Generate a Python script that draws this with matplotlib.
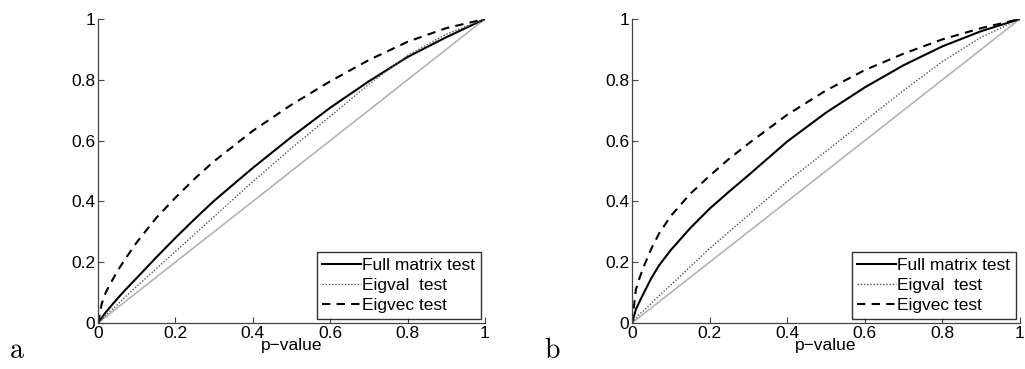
import numpy as np
import matplotlib
matplotlib.use("Agg")
from matplotlib import pyplot as plt

plt.rcParams['font.family'] = ['Liberation Sans', 'DejaVu Sans']
plt.rcParams['mathtext.fontset'] = 'cm'

p = [0, 0.01, 0.02, 0.03, 0.05, 0.07, 0.1, 0.15, 0.2, 0.25, 0.3, 0.4, 0.5, 0.6, 0.7, 0.8, 0.9, 1.0]

# panel a
full_a   = [0, 0.018, 0.035, 0.05, 0.08, 0.108, 0.148, 0.215, 0.28, 0.342, 0.402, 0.51, 0.612, 0.708, 0.795, 0.875, 0.94, 1.0]
eigval_a = [0, 0.012, 0.025, 0.037, 0.06, 0.085, 0.12, 0.178, 0.235, 0.292, 0.35, 0.465, 0.575, 0.68, 0.785, 0.88, 0.95, 1.0]
eigvec_a = [0, 0.065, 0.1, 0.125, 0.17, 0.21, 0.265, 0.345, 0.412, 0.475, 0.532, 0.632, 0.718, 0.795, 0.865, 0.925, 0.97, 1.0]

# panel b
full_b   = [0, 0.045, 0.072, 0.098, 0.148, 0.19, 0.24, 0.312, 0.376, 0.432, 0.486, 0.597, 0.692, 0.775, 0.848, 0.91, 0.96, 1.0]
eigval_b = [0, 0.015, 0.03, 0.04, 0.065, 0.09, 0.125, 0.185, 0.245, 0.3, 0.355, 0.465, 0.565, 0.665, 0.765, 0.86, 0.94, 1.0]
eigvec_b = [0, 0.11, 0.15, 0.185, 0.245, 0.295, 0.352, 0.425, 0.484, 0.54, 0.59, 0.685, 0.765, 0.832, 0.886, 0.933, 0.97, 1.0]

labels = ['Full matrix test', 'Eigval  test', 'Eigvec test']
ticks = [0, 0.2, 0.4, 0.6, 0.8, 1]
tick_labels = ['0', '0.2', '0.4', '0.6', '0.8', '1']

fig = plt.figure(figsize=(10.25, 3.69), dpi=100)
ax_a = fig.add_axes([0.0956, 0.1247, 0.3775, 0.8238])
ax_b = fig.add_axes([0.6166, 0.1247, 0.3785, 0.8238])


def draw(ax, full, eigval, eigvec):
    ax.plot([0, 1], [0, 1], color='#b4b4b4', lw=1.2)
    ax.plot(p, full, color='k', lw=1.5, ls='-', label=labels[0])
    ax.plot(p, eigval, color='#555555', lw=1.0, ls=(0, (1, 1.3)), label=labels[1])
    ax.plot(p, eigvec, color='k', lw=1.5, ls=(0, (4, 3)), label=labels[2])
    ax.set_xlim(0, 1)
    ax.set_ylim(0, 1)
    ax.set_xticks(ticks)
    ax.set_xticklabels(tick_labels)
    ax.set_yticks(ticks)
    ax.set_yticklabels(tick_labels)
    ax.tick_params(direction='in', length=4, width=0.8, labelsize=12.5,
                   color='#444444', pad=2)
    for s in ['top', 'right']:
        ax.spines[s].set_visible(False)
    for s in ['left', 'bottom']:
        ax.spines[s].set_color('#444444')
        ax.spines[s].set_linewidth(0.9)
    ax.set_xlabel('p\u2212value', fontsize=12.5, labelpad=-2)
    leg = ax.legend(loc='lower right', fontsize=12.5, frameon=True, fancybox=False,
                    borderpad=0.3, labelspacing=0.3, handlelength=2.2,
                    handletextpad=0.1, borderaxespad=0.25)
    leg.get_frame().set_edgecolor('k')
    leg.get_frame().set_linewidth(1.0)


draw(ax_a, full_a, eigval_a, eigvec_a)
draw(ax_b, full_b, eigval_b, eigvec_b)

fig.text(0.009, 0.03, r'$\mathrm{a}$', fontsize=20)
fig.text(0.531, 0.03, r'$\mathrm{b}$', fontsize=20)

fig.savefig('out.png', dpi=100)
